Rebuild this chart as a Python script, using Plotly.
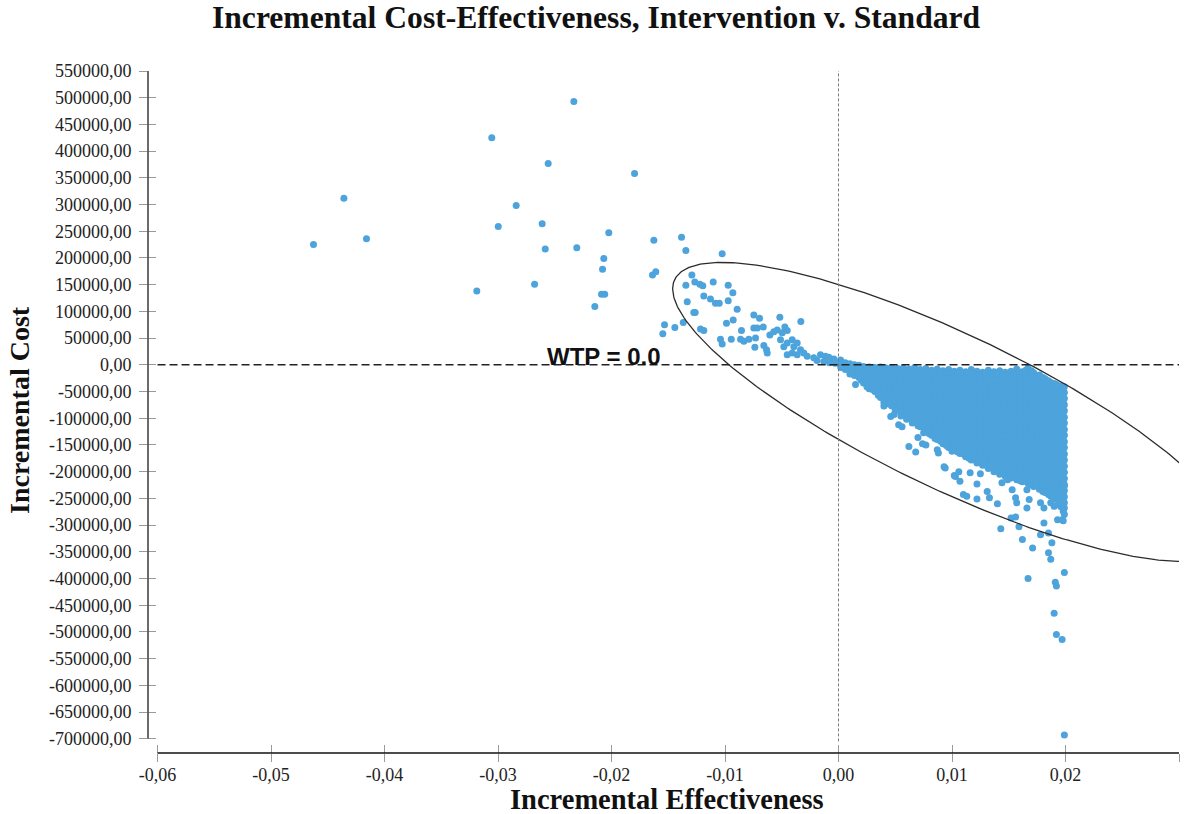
import numpy as np
import plotly.graph_objects as go

# ---------------- text ----------------
title_text = "Incremental Cost-Effectiveness, Intervention v. Standard"
x_title = "Incremental Effectiveness"
y_title = "Incremental Cost"
wtp_label = "WTP = 0.0"

# ---------------- ticks ----------------
x_tick_values = [-0.06, -0.05, -0.04, -0.03, -0.02, -0.01, 0.0, 0.01, 0.02, 0.03]
x_tick_labels = ["-0,06", "-0,05", "-0,04", "-0,03", "-0,02", "-0,01", "0,00", "0,01", "0,02", "0,03"]
y_tick_values = [550000, 500000, 450000, 400000, 350000, 300000, 250000, 200000, 150000, 100000,
                 50000, 0, -50000, -100000, -150000, -200000, -250000, -300000, -350000, -400000,
                 -450000, -500000, -550000, -600000, -650000, -700000]
y_tick_labels = ["550000,00", "500000,00", "450000,00", "400000,00", "350000,00", "300000,00",
                 "250000,00", "200000,00", "150000,00", "100000,00", "50000,00", "0,00",
                 "-50000,00", "-100000,00", "-150000,00", "-200000,00", "-250000,00", "-300000,00",
                 "-350000,00", "-400000,00", "-450000,00", "-500000,00", "-550000,00", "-600000,00",
                 "-650000,00", "-700000,00"]

# ---------------- data (incremental effectiveness, incremental cost in thousands) ----------------
# upper-left outliers
outlier_eff = [-0.02332, -0.03055, -0.02558, -0.01797, -0.04358, -0.02840, -0.02998, -0.02611,
               -0.04159, -0.04626, -0.02024, -0.02584, -0.02306, -0.01627, -0.01383, -0.01345,
               -0.01025, -0.02068, -0.02079, -0.01639, -0.01610, -0.03187, -0.02678, -0.02088,
               -0.02060, -0.02147]
outlier_cost_k = [493, 425, 377, 358, 312, 298, 259, 264,
                  236, 225, 247, 217, 219, 233, 239, 214,
                  208, 199, 179, 168, 174, 138, 151, 132,
                  132, 109]

# NW quadrant points close to the ellipse and the origin
nw_eff = [-0.01292, -0.01345, -0.01266, -0.01222, -0.01196, -0.01104, -0.00972, -0.00931, -0.00972,
          -0.01187, -0.01128, -0.01084, -0.01051, -0.01333, -0.01275, -0.01263, -0.00893,
          -0.01533, -0.01548, -0.01442, -0.01368, -0.01216, -0.01187, -0.01040, -0.01025, -0.00945,
          -0.00987, -0.00928, -0.00746, -0.00696, -0.00517, -0.00332, -0.00855, -0.00746, -0.00716,
          -0.00663, -0.00863, -0.00834, -0.00790, -0.00731, -0.00737, -0.00658, -0.00634, -0.00628,
          -0.00605, -0.00570, -0.00540, -0.00496, -0.00473, -0.00452, -0.00511, -0.00482, -0.00452,
          -0.00408, -0.00394, -0.00364, -0.00335, -0.00452, -0.00408, -0.00306, -0.00276, -0.00364,
          -0.00218, -0.00159, -0.00115, -0.00085, -0.00041, 0.00018, -0.00190, -0.00130, -0.00080,
          -0.00030, -0.00050, 0.00010]
nw_cost_k = [168, 149, 155, 151, 148, 155, 149, 135, 120,
             129, 123, 115, 115, 118, 98, 98, 104,
             75, 58, 70, 79, 67, 64, 48, 39, 48,
             78, 84, 93, 87, 89, 81, 64, 69, 69,
             71, 48, 44, 48, 50, 33, 36, 28, 22,
             56, 62, 65, 60, 71, 64, 47, 34, 41,
             47, 34, 41, 28, 19, 22, 22, 16, 19,
             13, 19, 16, 14, 11, 9, 8, 6, 4,
             3, 7, 2]

# dense SE cloud, listed column by column (effectiveness value, then costs in thousands)
cloud_a_eff = [0.0002, 0.0006, 0.0010, 0.0014, 0.0018, 0.0022, 0.0027, 0.0032, 0.0037, 0.0042, 0.0047]
cloud_a_cost_k = [
    [6, 1, -5],
    [4, -2, -9],
    [2, -4, -11, -17],
    [0, -6, -13, -20],
    [-1, -8, -16, -24],
    [-3, -10, -18, -27, -34],
    [-4, -12, -21, -30, -39, -45],
    [-5, -13, -23, -33, -42, -50],
    [-4, -14, -24, -35, -45, -54, -61],
    [-6, -16, -26, -37, -48, -58, -66, -72],
    [-5, -15, -26, -38, -49, -60, -69, -77],
]
cloud_a2_eff = [0.0004, 0.0012, 0.0020, 0.0025, 0.0030, 0.0035, 0.0040, 0.0045, 0.0050]
cloud_a2_cost_k = [
    [3, -3],
    [-1, -7, -14],
    [-5, -13, -21, -29],
    [-7, -16, -25, -35, -41],
    [-8, -18, -27, -37, -46],
    [-9, -19, -29, -40, -50, -57],
    [-10, -21, -31, -42, -53, -63, -70],
    [-10, -20, -32, -43, -55, -64, -74],
    [-11, -22, -34, -45, -56, -67, -78, -86],
]
cloud_b_eff = [0.0052, 0.0057, 0.0062, 0.0067, 0.0072, 0.0077, 0.0082, 0.0087, 0.0092, 0.0097]
cloud_b_cost_k = [
    [-7, -17, -28, -40, -51, -62, -73, -84],
    [-6, -16, -27, -39, -50, -61, -72, -83, -93],
    [-8, -19, -30, -41, -53, -64, -75, -87, -98],
    [-5, -16, -27, -39, -51, -62, -74, -85, -96, -107],
    [-9, -20, -31, -43, -54, -66, -77, -89, -100, -111, -116],
    [-7, -18, -29, -41, -52, -64, -75, -87, -98, -110, -121],
    [-10, -21, -32, -44, -55, -67, -78, -90, -101, -113, -124, -132],
    [-8, -19, -30, -42, -53, -65, -76, -88, -99, -111, -122, -134, -140],
    [-11, -22, -33, -45, -56, -68, -79, -91, -102, -114, -125, -137, -148],
    [-9, -20, -31, -43, -54, -66, -77, -89, -100, -112, -123, -135, -146, -155],
]
cloud_b2_eff = [0.0055, 0.0060, 0.0065, 0.0070, 0.0075, 0.0080, 0.0085, 0.0090, 0.0095, 0.0100]
cloud_b2_cost_k = [
    [-11, -22, -33, -45, -56, -67, -78, -88, -96],
    [-12, -24, -35, -47, -58, -70, -81, -92, -102],
    [-13, -24, -36, -47, -59, -70, -81, -92, -103, -109],
    [-14, -26, -37, -49, -60, -72, -83, -95, -106, -114],
    [-13, -25, -36, -47, -59, -70, -82, -93, -104, -116, -127],
    [-15, -27, -38, -50, -61, -73, -84, -96, -107, -118, -129],
    [-14, -25, -37, -48, -60, -71, -82, -94, -105, -117, -128, -138],
    [-16, -27, -39, -50, -62, -73, -85, -96, -108, -119, -131, -143],
    [-15, -26, -38, -49, -61, -72, -84, -95, -107, -118, -130, -141, -151],
    [-17, -28, -40, -51, -63, -74, -86, -97, -109, -120, -132, -143, -154, -162],
]
cloud_c_eff = [0.0102, 0.0107, 0.0112, 0.0117, 0.0122, 0.0127, 0.0132, 0.0137, 0.0142, 0.0147]
cloud_c_cost_k = [
    [-12, -23, -34, -46, -57, -69, -80, -92, -103, -115, -126, -138, -149, -160],
    [-10, -21, -32, -44, -55, -67, -78, -90, -101, -113, -124, -136, -147, -158, -166],
    [-13, -24, -35, -47, -58, -70, -81, -93, -104, -116, -127, -139, -150, -161, -172],
    [-9, -20, -31, -43, -54, -66, -77, -89, -100, -112, -123, -135, -146, -158, -169, -178],
    [-12, -23, -34, -46, -57, -69, -80, -92, -103, -115, -126, -138, -149, -161, -172, -184],
    [-14, -25, -36, -48, -59, -71, -82, -94, -105, -117, -128, -140, -151, -163, -174, -188],
    [-10, -21, -32, -44, -55, -67, -78, -90, -101, -113, -124, -136, -147, -159, -170, -181, -194],
    [-13, -24, -35, -47, -58, -70, -81, -93, -104, -116, -127, -139, -150, -162, -173, -185, -200],
    [-11, -22, -33, -45, -56, -68, -79, -91, -102, -114, -125, -137, -148, -160, -171, -183, -194, -205],
    [-14, -25, -36, -48, -59, -71, -82, -94, -105, -117, -128, -140, -151, -163, -174, -186, -197, -209],
]
cloud_c2_eff = [0.0105, 0.0110, 0.0115, 0.0120, 0.0125, 0.0130, 0.0135, 0.0140, 0.0145, 0.0150]
cloud_c2_cost_k = [
    [-16, -27, -39, -50, -62, -73, -85, -96, -108, -119, -131, -142, -153, -163],
    [-18, -29, -41, -52, -64, -75, -87, -98, -110, -121, -133, -144, -156, -167],
    [-15, -26, -38, -49, -61, -72, -84, -95, -107, -118, -130, -141, -152, -164, -175],
    [-18, -29, -40, -52, -63, -75, -86, -98, -109, -121, -132, -144, -155, -167, -178],
    [-19, -30, -42, -53, -65, -76, -88, -99, -111, -122, -134, -145, -157, -168, -180],
    [-16, -27, -38, -50, -61, -73, -84, -96, -107, -119, -130, -142, -153, -165, -176, -188],
    [-18, -30, -41, -53, -64, -76, -87, -99, -110, -122, -133, -145, -156, -168, -179, -192],
    [-17, -28, -39, -51, -62, -74, -85, -97, -108, -120, -131, -143, -154, -166, -177, -189, -198],
    [-19, -31, -42, -54, -65, -77, -88, -100, -111, -123, -134, -146, -157, -169, -180, -192, -203],
    [-18, -29, -40, -52, -63, -75, -86, -98, -109, -121, -132, -144, -155, -167, -178, -190, -201, -210],
]
cloud_d_eff = [0.0152, 0.0157, 0.0162, 0.0167, 0.0172, 0.0177, 0.0182, 0.0187, 0.0192, 0.0196, 0.0199]
cloud_d_cost_k = [
    [-12, -23, -34, -46, -57, -69, -80, -92, -103, -115, -126, -138, -149, -161, -172, -184, -195, -212],
    [-8, -19, -30, -42, -53, -65, -76, -88, -99, -111, -122, -134, -145, -157, -168, -180, -191, -203, -215],
    [-13, -24, -35, -47, -58, -70, -81, -93, -104, -116, -127, -139, -150, -162, -173, -185, -196, -208, -219],
    [-6, -17, -28, -40, -51, -63, -74, -86, -97, -109, -120, -132, -143, -155, -166, -178, -189, -201, -212, -222],
    [-15, -26, -37, -49, -60, -72, -83, -95, -106, -118, -129, -141, -152, -164, -175, -187, -198, -210, -221, -228],
    [-19, -30, -41, -53, -64, -76, -87, -99, -110, -122, -133, -145, -156, -168, -179, -191, -202, -214, -225, -233],
    [-26, -37, -48, -60, -71, -83, -94, -106, -117, -129, -140, -152, -163, -175, -186, -198, -209, -221, -232, -239],
    [-33, -44, -55, -67, -78, -90, -101, -113, -124, -136, -147, -159, -170, -182, -193, -205, -216, -228, -239, -246],
    [-37, -48, -59, -71, -82, -94, -105, -117, -128, -140, -151, -163, -174, -186, -197, -209, -220, -232, -243, -252],
    [-39, -50, -61, -73, -84, -96, -107, -119, -130, -142, -153, -165, -176, -188, -199, -211, -222, -234, -245, -256, -266],
    [-41, -52, -63, -75, -86, -98, -109, -121, -132, -144, -155, -167, -178, -190, -201, -213, -224, -236, -247, -258, -268, -280],
]
cloud_d2_eff = [0.0155, 0.0160, 0.0165, 0.0170, 0.0175, 0.0180, 0.0185, 0.0190, 0.0194, 0.0198]
cloud_d2_cost_k = [
    [-15, -26, -37, -49, -60, -72, -83, -95, -106, -118, -129, -141, -152, -164, -175, -187, -198, -208],
    [-14, -25, -36, -48, -59, -71, -82, -94, -105, -117, -128, -140, -151, -163, -174, -186, -197, -209, -217],
    [-10, -21, -32, -44, -55, -67, -78, -90, -101, -113, -124, -136, -147, -159, -170, -182, -193, -205, -216],
    [-11, -22, -33, -45, -56, -68, -79, -91, -102, -114, -125, -137, -148, -160, -171, -183, -194, -206, -217, -225],
    [-21, -32, -43, -55, -66, -78, -89, -101, -112, -124, -135, -147, -158, -170, -181, -193, -204, -216, -227],
    [-24, -35, -46, -58, -69, -81, -92, -104, -115, -127, -138, -150, -161, -173, -184, -196, -207, -219, -230, -237],
    [-30, -41, -53, -64, -76, -87, -99, -110, -122, -133, -145, -156, -168, -179, -191, -202, -214, -225, -236, -243],
    [-35, -46, -58, -69, -81, -92, -104, -115, -127, -138, -150, -161, -173, -184, -196, -207, -219, -230, -241, -249],
    [-40, -52, -63, -75, -86, -98, -109, -121, -132, -144, -155, -167, -178, -190, -201, -213, -224, -236, -247, -255, -262],
    [-44, -56, -67, -79, -90, -102, -113, -125, -136, -148, -159, -171, -182, -194, -205, -217, -228, -240, -251, -262, -274],
]

# scattered points below the dense cloud (long tail of cost savings)
tail_eff = [0.0015, 0.0040, 0.0046, 0.0049, 0.0053, 0.0056, 0.0070, 0.0062, 0.0068, 0.0077,
            0.0087, 0.0074, 0.0093, 0.0088, 0.0102, 0.0107, 0.0116, 0.0125, 0.0110, 0.0113,
            0.0122, 0.0122, 0.0131, 0.0133, 0.0140, 0.0143, 0.0144, 0.0149, 0.0153, 0.0156,
            0.0157, 0.0152, 0.0156, 0.0159, 0.0162, 0.0166, 0.0168, 0.0166, 0.0171, 0.0174,
            0.0181, 0.0185, 0.0178, 0.0188, 0.0193, 0.0197, 0.0178, 0.0181, 0.0187, 0.0190,
            0.0184, 0.0188, 0.0193, 0.0199, 0.0167, 0.0185, 0.0187, 0.0199, 0.0191, 0.0192,
            0.0190, 0.0192, 0.0197, 0.0199, 0.0094, 0.0103, 0.0106, 0.0198]
tail_cost_k = [-37, -77, -97, -93, -112, -116, -136, -153, -163, -150,
               -159, -148, -191, -165, -207, -218, -202, -204, -243, -246,
               -251, -223, -237, -249, -260, -307, -221, -215, -234, -249,
               -258, -287, -285, -303, -327, -234, -252, -268, -343, -224,
               -296, -315, -318, -333, -290, -290, -258, -268, -258, -265,
               -240, -234, -243, -227, -400, -352, -364, -389, -407, -414,
               -465, -505, -514, -693, -193, -209, -200, -292]

# confidence ellipse: centre, semi-axes (in units of 0.01 effect and 100000 cost) and tilt
ellipse_center_eff = 0.0100
ellipse_center_cost = -88200
ellipse_semi_major = 3.5615
ellipse_semi_minor = 1.0981
ellipse_angle_deg = -49.45

# ---------------- assemble ----------------
pts_x, pts_y = [], []
pts_x += outlier_eff
pts_y += [c * 1000 for c in outlier_cost_k]
pts_x += nw_eff
pts_y += [c * 1000 for c in nw_cost_k]
for effs, cols in [(cloud_a_eff, cloud_a_cost_k), (cloud_a2_eff, cloud_a2_cost_k),
                   (cloud_b_eff, cloud_b_cost_k), (cloud_b2_eff, cloud_b2_cost_k),
                   (cloud_c_eff, cloud_c_cost_k), (cloud_c2_eff, cloud_c2_cost_k),
                   (cloud_d_eff, cloud_d_cost_k), (cloud_d2_eff, cloud_d2_cost_k)]:
    for e, col in zip(effs, cols):
        for c in col:
            pts_x.append(e)
            pts_y.append(c * 1000)
pts_x += tail_eff
pts_y += [c * 1000 for c in tail_cost_k]

t = np.linspace(0, 2 * np.pi, 400)
th = np.deg2rad(ellipse_angle_deg)
ex = ellipse_semi_major * np.cos(t) * np.cos(th) - ellipse_semi_minor * np.sin(t) * np.sin(th)
ey = ellipse_semi_major * np.cos(t) * np.sin(th) + ellipse_semi_minor * np.sin(t) * np.cos(th)
ell_x = ellipse_center_eff + 0.01 * ex
ell_y = ellipse_center_cost + 100000 * ey

X_RANGE = [-0.06084, 0.03]
Y_RANGE = [-726700, 550000]

fig = go.Figure()
fig.add_trace(go.Scatter(x=pts_x, y=pts_y, mode="markers",
                         marker=dict(size=7, color="#4DA3DB", line=dict(width=0)),
                         hoverinfo="x+y", showlegend=False))
fig.add_trace(go.Scatter(x=ell_x, y=ell_y, mode="lines",
                         line=dict(color="#2b2b2b", width=1.3), hoverinfo="skip", showlegend=False))
# empty trace to activate overlay axes (used for the inner half of the crossing ticks)
fig.add_trace(go.Scatter(x=[], y=[], xaxis="x2", yaxis="y2", showlegend=False))

serif = "Liberation Serif, Times New Roman, serif"
tick_font = dict(family=serif, size=18, color="#222222")

fig.update_layout(
    width=1191, height=814,
    margin=dict(l=148, r=12, t=71, b=61),
    paper_bgcolor="white", plot_bgcolor="white",
    showlegend=False,
    xaxis=dict(range=X_RANGE, tickvals=x_tick_values, ticktext=x_tick_labels,
               ticks="outside", ticklen=8, tickwidth=1, tickcolor="#9a9a9a",
               showgrid=False, zeroline=False, showline=False,
               tickfont=tick_font, ticklabelstandoff=-3),
    yaxis=dict(range=Y_RANGE, tickvals=y_tick_values, ticktext=y_tick_labels,
               ticks="outside", ticklen=8, tickwidth=1, tickcolor="#9a9a9a",
               showgrid=False, zeroline=False, showline=False,
               tickfont=tick_font, ticklabelstandoff=4),
    xaxis2=dict(range=X_RANGE, overlaying="x", anchor="y2", side="bottom",
                tickvals=x_tick_values, ticks="inside", ticklen=8, tickwidth=1,
                tickcolor="#9a9a9a", showticklabels=False, showgrid=False,
                zeroline=False, showline=False),
    yaxis2=dict(range=Y_RANGE, overlaying="y", anchor="x2", side="left",
                tickvals=y_tick_values, ticks="inside", ticklen=8, tickwidth=1,
                tickcolor="#9a9a9a", showticklabels=False, showgrid=False,
                zeroline=False, showline=False),
)

shapes = [
    # y axis line (from -700000 up to 550000)
    dict(type="line", xref="paper", yref="y", x0=0, x1=0, y0=-700000, y1=550000,
         line=dict(color="#3a3a3a", width=1.5)),
    # x axis line
    dict(type="line", xref="x", yref="paper", x0=-0.06, x1=0.03, y0=0, y1=0,
         line=dict(color="#111111", width=1.5)),
    # vertical reference at zero effect
    dict(type="line", xref="x", yref="y", x0=0, x1=0, y0=-705000, y1=555000,
         line=dict(color="#7a7a7a", width=1, dash="3px,2px")),
    # WTP = 0 line
    dict(type="line", xref="x", yref="y", x0=-0.06, x1=0.03, y0=0, y1=0,
         line=dict(color="#222222", width=1.6, dash="8px,4px")),
]
fig.update_layout(shapes=shapes)

annotations = [
    dict(text="<b>" + title_text + "</b>", xref="paper", yref="paper",
         x=(596 - 148) / 1031, y=(753 - 17) / 682, xanchor="center", yanchor="middle",
         showarrow=False, font=dict(family=serif, size=31.6, color="#111111")),
    dict(text="<b>" + x_title + "</b>", xref="paper", yref="paper",
         x=(667 - 148) / 1031, y=(753 - 799) / 682, xanchor="center", yanchor="middle",
         showarrow=False, font=dict(family=serif, size=28.5, color="#111111")),
    dict(text="<b>" + y_title + "</b>", xref="paper", yref="paper", textangle=-90,
         x=(19 - 148) / 1031, y=(753 - 410) / 682, xanchor="center", yanchor="middle",
         showarrow=False, font=dict(family=serif, size=28, color="#111111")),
    dict(text="<b>" + wtp_label + "</b>", xref="x", yref="y",
         x=-0.02062, y=0, xanchor="center", yanchor="bottom", yshift=-7,
         showarrow=False, font=dict(family="Liberation Sans, Arial, sans-serif", size=24, color="#111111")),
]
fig.update_layout(annotations=annotations)

fig.write_html("out.html")
